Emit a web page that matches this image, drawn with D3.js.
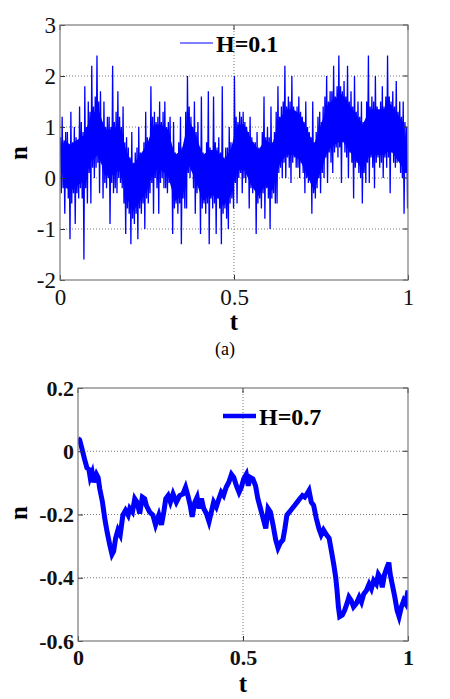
<!DOCTYPE html>
<html>
<head>
<meta charset="utf-8">
<script src="https://cdn.jsdelivr.net/npm/d3@7"></script>
<style>
  body { margin: 0; background: #fff; }
  svg { display: block; }
  svg text { font-family: "Liberation Serif", "Times New Roman", Times, serif; }
</style>
</head>
<body>
<svg id="chart" width="450" height="699"></svg>
<script>
// Panel (a): H=0.1, top and bottom of the trace in each 0.005 column
const upH01 = [
  0.8, 1.2, 0.7, 0.9,  0.9, 0.6, 1.3, 0.7,  1.0, 0.8, 0.7, 1.4,  1.1, 0.9, 1.8, 1.0,
  1.5, 1.3, 2.2, 1.4,  1.6, 2.4, 1.5, 1.7,  1.1, 1.5, 1.0, 1.2,  1.2, 1.0, 2.2, 1.1,
  1.3, 1.7, 1.2, 1.0,  1.4, 0.7, 0.8, 0.6,  0.4, 0.9, 0.3, 0.5,  0.6, 1.0, 0.5, 0.4,
  0.7, 1.3, 0.8, 0.6,  1.8, 1.2, 1.3, 1.1,  1.2, 1.5, 1.1, 1.3,  1.5, 1.0, 1.1, 1.2,
  0.6, 1.1, 0.5, 0.4,  0.7, 1.2, 0.6, 0.5,  1.3, 2.0, 1.4, 1.2,  1.0, 1.5, 0.9, 1.1,
  0.6, 1.6, 0.5, 0.4,  0.7, 1.7, 0.6, 0.5,  1.6, 0.7, 0.6, 0.8,  0.5, 1.8, 0.4, 0.6,
  0.6, 1.0, 0.7, 0.5,  2.0, 1.2, 1.1, 1.3,  1.2, 1.3, 1.1, 1.0,  0.9, 1.2, 0.8, 0.7,
  0.7, 0.9, 0.6, 0.5,  0.9, 1.6, 0.8, 1.0,  0.8, 1.4, 0.7, 0.9,  1.3, 1.8, 1.2, 1.4,
  1.5, 2.2, 1.4, 1.6,  1.5, 2.0, 1.4, 1.3,  1.4, 1.6, 1.3, 1.2,  1.1, 1.5, 1.0, 0.9,
  0.8, 1.5, 0.7, 0.9,  1.2, 1.3, 1.1, 1.4,  1.6, 2.0, 1.5, 1.7,  1.7, 2.2, 1.6, 1.8,
  2.4, 1.8, 1.7, 1.9,  1.6, 2.2, 1.5, 1.7,  1.4, 2.0, 1.3, 1.5,  1.2, 1.5, 1.1, 1.0,
  1.5, 2.4, 1.4, 1.6,  1.5, 2.0, 1.4, 1.3,  1.5, 1.8, 1.4, 1.6,  2.4, 1.6, 1.5, 1.7,
  1.4, 1.9, 1.3, 1.5,  1.2, 1.5, 1.1, 1.0
];
const loH01 = [
  -0.3, -0.2, -0.7, -0.2,  -0.4, -1.2, -0.5, -0.3,  -0.9, -0.3, -0.4, -0.2,  -0.4, -1.6, -0.2, -0.5,
  0.1, -0.5, 0.2, 0.0,     0.2, 0.3, -0.3, 0.3,     -0.4, -0.1, -0.2, 0.0,   -0.9, -0.1, -0.3, -0.2,
  -0.3, 0.0, -0.1, -0.2,   -0.5, -1.1, -0.6, -0.7,  -1.3, -0.8, -0.9, -0.7,  -1.2, -0.6, -0.7, -0.5,
  -1.0, -0.4, -0.5, -0.3,  -0.1, -0.7, 0.0, -0.2,   -0.7, -0.1, 0.0, -0.2,   -0.2, -0.3, -0.1, 0.0,
  -1.1, -0.6, -0.5, -0.7,  -0.5, -1.3, -0.4, -0.6,  -0.6, 0.1, 0.0, 0.2,     -0.2, -0.7, -0.3, -0.1,
  -1.1, -0.6, -0.5, -0.7,  -0.5, -1.3, -0.4, -0.6,  -0.5, -1.1, -0.4, -0.6,  -1.3, -0.7, -0.6, -0.8,
  -1.0, -0.5, -0.4, -0.6,  -0.1, -0.5, 0.0, 0.1,    -0.3, 0.0, -0.1, 0.1,    -0.6, -0.2, -0.3, -0.1,
  -1.1, -0.5, -0.4, -0.6,  -0.3, -0.8, -0.2, -0.4,  -1.0, -0.4, -0.3, -0.5,  -0.5, 0.1, 0.2, 0.0,
  0.3, 0.0, 0.4, 0.2,      -0.1, 0.3, 0.4, 0.2,     0.2, 0.0, 0.3, 0.1,      -0.3, 0.0, -0.1, 0.1,
  -0.7, -0.3, -0.4, -0.2,  0.0, -0.3, 0.1, 0.0,     0.4, -0.1, 0.5, 0.3,     0.1, 0.5, 0.6, 0.4,
  0.6, -0.1, 0.7, 0.5,     0.4, 0.0, 0.5, 0.3,      -0.4, 0.2, 0.3, 0.1,     0.0, -0.5, 0.1, -0.1,
  0.3, -0.1, 0.4, 0.2,     -0.2, 0.3, 0.4, 0.2,     0.3, 0.0, 0.4, 0.2,      0.4, -0.3, 0.5, 0.3,
  0.2, 0.3, 0.4, 0.1,      0.0, -0.7, 0.1, -0.6
];
// Panel (a): the solid core of the trace, at t = 0.01, 0.03, ... 0.99
const coreHi = [
  0.75, 0.65, 0.75, 0.85, 1.25, 1.35, 0.95, 0.95, 1.05, 0.55,
  0.25, 0.45, 0.65, 1.05, 1.05, 0.95, 0.45, 0.55, 1.15, 0.85,
  0.45, 0.55, 0.55, 0.35, 0.55, 1.05, 1.05, 0.75, 0.55, 0.75,
  0.65, 1.15, 1.35, 1.35, 1.25, 0.95, 0.65, 1.05, 1.45, 1.55,
  1.65, 1.45, 1.25, 1.05, 1.35, 1.35, 1.35, 1.45, 1.25, 1.05
];
const coreLo = [
  -0.15, -0.25, -0.15, -0.05, 0.35, 0.45, 0.05, 0.05, 0.15, -0.35,
  -0.65, -0.45, -0.25, 0.15, 0.15, 0.05, -0.45, -0.35, 0.25, -0.05,
  -0.45, -0.35, -0.35, -0.55, -0.35, 0.15, 0.15, -0.15, -0.35, -0.15,
  -0.25, 0.25, 0.45, 0.45, 0.35, 0.05, -0.25, 0.15, 0.55, 0.65,
  0.75, 0.55, 0.35, 0.15, 0.45, 0.45, 0.45, 0.55, 0.35, 0.15
];

// Panel (b): H=0.7 path
const pathT = [
  0.000, 0.005, 0.010, 0.020, 0.027, 0.033, 0.037, 0.043, 0.048, 0.056, 0.061, 0.066,
  0.074, 0.081, 0.088, 0.096, 0.103, 0.108, 0.114, 0.121, 0.128, 0.136, 0.144, 0.152,
  0.157, 0.165, 0.172, 0.179, 0.187, 0.195, 0.202, 0.207, 0.217, 0.227, 0.235, 0.245,
  0.253, 0.260, 0.266, 0.273, 0.280, 0.288, 0.298, 0.308, 0.318, 0.326, 0.333, 0.340,
  0.346, 0.354, 0.361, 0.367, 0.374, 0.381, 0.389, 0.397, 0.404, 0.411, 0.419, 0.427,
  0.434, 0.441, 0.449, 0.457, 0.465, 0.472, 0.480, 0.488, 0.495, 0.502, 0.510, 0.516,
  0.522, 0.530, 0.538, 0.545, 0.553, 0.561, 0.569, 0.576, 0.583, 0.591, 0.599, 0.606,
  0.613, 0.621, 0.627, 0.633, 0.641, 0.649, 0.657, 0.664, 0.672, 0.680, 0.687, 0.694,
  0.700, 0.707, 0.714, 0.722, 0.730, 0.737, 0.744, 0.753, 0.761, 0.768, 0.775, 0.781,
  0.785, 0.789, 0.793, 0.801, 0.808, 0.815, 0.821, 0.828, 0.835, 0.843, 0.852, 0.859,
  0.866, 0.874, 0.882, 0.889, 0.896, 0.904, 0.910, 0.916, 0.922, 0.929, 0.936, 0.942,
  0.946, 0.952, 0.960, 0.967, 0.973, 0.980, 0.987, 0.993, 1.000
];
const pathN = [
  0.040, 0.036, 0.016, -0.026, -0.052, -0.057, -0.083, -0.067, -0.098, -0.073, -0.083, -0.119,
  -0.160, -0.212, -0.254, -0.295, -0.326, -0.316, -0.275, -0.249, -0.264, -0.202, -0.187, -0.202,
  -0.181, -0.192, -0.150, -0.161, -0.197, -0.145, -0.150, -0.171, -0.192, -0.202, -0.233, -0.202,
  -0.233, -0.192, -0.150, -0.140, -0.161, -0.135, -0.161, -0.140, -0.135, -0.114, -0.140, -0.171,
  -0.207, -0.161, -0.145, -0.181, -0.150, -0.181, -0.197, -0.223, -0.192, -0.161, -0.176, -0.150,
  -0.130, -0.140, -0.114, -0.098, -0.073, -0.083, -0.109, -0.130, -0.114, -0.088, -0.073, -0.109,
  -0.083, -0.088, -0.109, -0.150, -0.181, -0.212, -0.244, -0.181, -0.192, -0.233, -0.280, -0.306,
  -0.290, -0.280, -0.244, -0.202, -0.192, -0.181, -0.171, -0.161, -0.150, -0.140, -0.145, -0.135,
  -0.124, -0.161, -0.171, -0.212, -0.244, -0.264, -0.249, -0.264, -0.275, -0.316, -0.358, -0.399,
  -0.440, -0.492, -0.523, -0.518, -0.503, -0.482, -0.461, -0.472, -0.492, -0.482, -0.461, -0.477,
  -0.451, -0.440, -0.420, -0.435, -0.409, -0.420, -0.389, -0.399, -0.430, -0.389, -0.368, -0.352,
  -0.389, -0.420, -0.461, -0.503, -0.523, -0.492, -0.472, -0.482, -0.440
];

const ticksT = [0, 0.5, 1];
const ticksA = [-2, -1, 0, 1, 2, 3];
const ticksB = [-0.6, -0.4, -0.2, 0, 0.2];

const svg = d3.select("#chart");

// draws one MATLAB-style panel
function drawPanel(o) {
  const x = d3.scaleLinear().domain([0, 1]).range([o.left, o.right]);
  const y = d3.scaleLinear().domain(o.yDomain).range([o.bottom, o.top]);
  const g = svg.append("g");

  const clipId = "clip" + o.name;
  g.append("clipPath").attr("id", clipId)
    .append("rect")
    .attr("x", o.left).attr("y", o.top)
    .attr("width", o.right - o.left).attr("height", o.bottom - o.top);

  // dotted grid
  const inner = o.yTicks.filter(v => v > o.yDomain[0] && v < o.yDomain[1]);
  g.selectAll(".hg").data(inner).enter().append("line")
    .attr("x1", o.left).attr("x2", o.right)
    .attr("y1", d => y(d)).attr("y2", d => y(d))
    .attr("stroke", "#555").attr("stroke-width", 0.8)
    .attr("stroke-dasharray", "1,2");
  g.append("line")
    .attr("x1", x(0.5)).attr("x2", x(0.5))
    .attr("y1", o.top).attr("y2", o.bottom)
    .attr("stroke", "#555").attr("stroke-width", 0.8)
    .attr("stroke-dasharray", "1,2");

  const plot = g.append("g").attr("clip-path", "url(#" + clipId + ")");

  // dense middle of a noisy trace
  if (o.core) {
    const area = d3.area()
      .x(d => x(d[0])).y0(d => y(d[1])).y1(d => y(d[2]));
    plot.append("path")
      .datum(o.core)
      .attr("fill", "#0000ff")
      .attr("d", area);
  }

  const line = d3.line().x(d => x(d[0])).y(d => y(d[1]));
  plot.append("path")
    .datum(o.points)
    .attr("fill", "none")
    .attr("stroke", "#0000ff")
    .attr("stroke-width", o.lineWidth)
    .attr("stroke-linejoin", o.join)
    .attr("d", line);

  // axes with inward ticks
  const ax = g.append("g")
    .attr("transform", "translate(0," + o.bottom + ")")
    .call(d3.axisBottom(x).tickValues(ticksT).tickSize(-5).tickPadding(o.xPad)
      .tickFormat(d => String(d)));
  const ay = g.append("g")
    .attr("transform", "translate(" + o.left + ",0)")
    .call(d3.axisLeft(y).tickValues(o.yTicks).tickSize(-5).tickPadding(4)
      .tickFormat(d => String(d)));
  [ax, ay].forEach(a => {
    a.select(".domain").remove();
    a.attr("font-family", null);
    a.selectAll("line").attr("stroke", "#333");
    a.selectAll("text")
      .attr("fill", "#111")
      .style("font-size", o.tickSize + "px")
      .style("font-weight", o.tickWeight);
  });
  // mirrored ticks on top and right
  g.selectAll(".tt").data(ticksT).enter().append("line")
    .attr("x1", d => x(d)).attr("x2", d => x(d))
    .attr("y1", o.top).attr("y2", o.top + 5).attr("stroke", "#333");
  g.selectAll(".rt").data(o.yTicks).enter().append("line")
    .attr("x1", o.right).attr("x2", o.right - 5)
    .attr("y1", d => y(d)).attr("y2", d => y(d)).attr("stroke", "#333");

  // box
  g.append("rect")
    .attr("x", o.left).attr("y", o.top)
    .attr("width", o.right - o.left).attr("height", o.bottom - o.top)
    .attr("fill", "none").attr("stroke", "#7a7a7a").attr("stroke-width", 1.2);

  // axis labels
  g.append("text")
    .attr("x", x(0.5)).attr("y", o.tLabelY)
    .attr("text-anchor", "middle")
    .style("font-size", "25px").style("font-weight", "bold")
    .text("t");
  g.append("text")
    .attr("transform", "translate(27," + o.nLabelY + ") rotate(-90)")
    .attr("text-anchor", "middle")
    .style("font-size", "25px").style("font-weight", "bold")
    .text("n");

  // legend (no box)
  g.append("line")
    .attr("x1", o.legend.x).attr("x2", o.legend.x + 33)
    .attr("y1", o.legend.y).attr("y2", o.legend.y)
    .attr("stroke", "#0000ff").attr("stroke-width", o.legend.width);
  g.append("text")
    .attr("x", o.legend.x + 36).attr("y", o.legend.y + 9)
    .style("font-size", "24px").style("font-weight", "bold")
    .text(o.legend.label);
}

// each column runs from its top to its bottom value
const nCol = upH01.length;
const zigzag = [];
upH01.forEach((v, i) => {
  zigzag.push([(i + 0.25) / nCol, v]);
  zigzag.push([(i + 0.75) / nCol, loH01[i]]);
});

drawPanel({
  name: "a",
  left: 60, right: 408, top: 25, bottom: 280,
  yDomain: [-2, 3], yTicks: ticksA,
  points: zigzag,
  core: coreHi.map((v, i) => [0.01 + 0.02 * i, coreLo[i], v]),
  lineWidth: 1.3, join: "bevel",
  tickSize: 23, tickWeight: "normal", xPad: 9,
  tLabelY: 330, nLabelY: 153,
  legend: { x: 180, y: 43, label: "H=0.1", width: 1 }
});

drawPanel({
  name: "b",
  left: 78, right: 408, top: 388, bottom: 641,
  yDomain: [-0.6, 0.2], yTicks: ticksB,
  points: pathT.map((t, i) => [t, pathN[i]]),
  lineWidth: 5, join: "miter",
  tickSize: 22, tickWeight: "bold", xPad: 8,
  tLabelY: 692, nLabelY: 513,
  legend: { x: 223, y: 416, label: "H=0.7", width: 4.5 }
});

// caption under panel (a)
svg.append("text")
  .attr("x", 225).attr("y", 355)
  .attr("text-anchor", "middle")
  .style("font-size", "18px")
  .text("(a)");
</script>
</body>
</html>
